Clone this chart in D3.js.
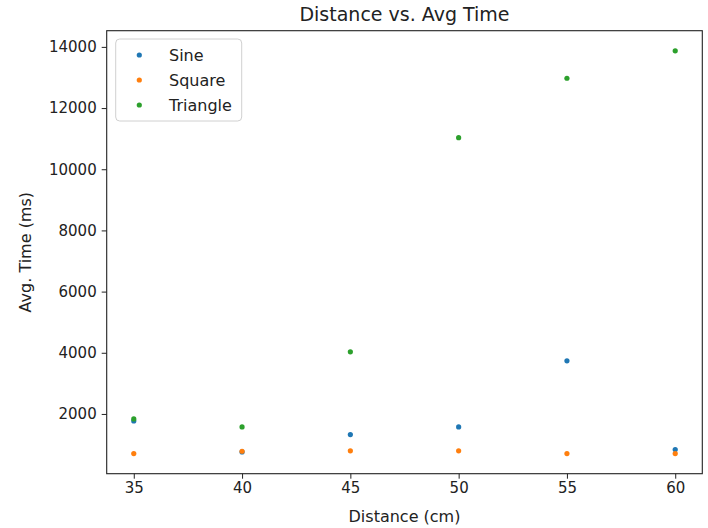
<!DOCTYPE html>
<html>
<head>
<meta charset="utf-8">
<script src="https://cdn.jsdelivr.net/npm/d3@7"></script>
<style>
  html, body { margin: 0; padding: 0; background: #fff; }
  svg { display: block; font-family: "DejaVu Sans", sans-serif; }
</style>
</head>
<body>
<svg id="chart" width="708" height="528"></svg>
<script>
const distances = [35, 40, 45, 50, 55, 60];
const sineValues = [1771, 760, 1325, 1576, 3738, 836];
const squareValues = [705, 780, 793, 793, 705, 705];
const triangleValues = [1837, 1576, 4031, 11032, 12975, 13871];
const seriesNames = ["Sine", "Square", "Triangle"];
const seriesColors = ["#1f77b4", "#ff7f0e", "#2ca02c"];
const xTicks = [35, 40, 45, 50, 55, 60];
const yTicks = [2000, 4000, 6000, 8000, 10000, 12000, 14000];

const series = [sineValues, squareValues, triangleValues].map((vals, i) => ({
  name: seriesNames[i], color: seriesColors[i],
  points: vals.map((v, j) => ({ x: distances[j], y: v }))
}));

const L = 106.7, R = 702.3, T = 30.7, B = 473.7;
const svg = d3.select("#chart");

function padded(ext) { const r = ext[1] - ext[0]; return [ext[0] - 0.05 * r, ext[1] + 0.05 * r]; }
const xScale = d3.scaleLinear().domain(padded(d3.extent(distances))).range([L, R]);
const allY = [].concat(sineValues, squareValues, triangleValues);
const yScale = d3.scaleLinear().domain(padded(d3.extent(allY))).range([B, T]);

// axes
const xAxis = svg.append("g").attr("transform", `translate(0,${B})`)
  .call(d3.axisBottom(xScale).tickValues(xTicks).tickSize(5).tickPadding(4).tickFormat(d3.format("d")));
const yAxis = svg.append("g").attr("transform", `translate(${L},0)`)
  .call(d3.axisLeft(yScale).tickValues(yTicks).tickSize(5).tickPadding(5).tickFormat(d3.format("d")));
[xAxis, yAxis].forEach(g => {
  g.select(".domain").remove();
  g.selectAll(".tick line").attr("stroke", "#222").attr("stroke-width", 1);
  g.selectAll(".tick text").attr("fill", "#222").style("font-size", "15px").style("font-family", "DejaVu Sans");
});

// frame
svg.append("rect").attr("x", L).attr("y", T).attr("width", R - L).attr("height", B - T)
  .attr("fill", "none").attr("stroke", "#222").attr("stroke-width", 1.1);

// points
series.forEach(s => {
  svg.append("g").selectAll("circle").data(s.points).join("circle")
    .attr("cx", d => xScale(d.x)).attr("cy", d => yScale(d.y))
    .attr("r", 2.6).attr("fill", s.color);
});

// title and labels
svg.append("text").attr("x", (L + R) / 2).attr("y", 21).attr("text-anchor", "middle")
  .style("font-size", "19px").attr("fill", "#222").text("Distance vs. Avg Time");
svg.append("text").attr("x", (L + R) / 2).attr("y", 522).attr("text-anchor", "middle")
  .style("font-size", "16px").attr("fill", "#222").text("Distance (cm)");
svg.append("text").attr("transform", `translate(31,${(T + B) / 2}) rotate(-90)`).attr("text-anchor", "middle")
  .style("font-size", "16px").attr("fill", "#222").text("Avg. Time (ms)");

// legend
const lg = svg.append("g");
lg.append("rect").attr("x", 115.7).attr("y", 39).attr("width", 126).attr("height", 82).attr("rx", 4)
  .attr("fill", "#fff").attr("fill-opacity", 0.8).attr("stroke", "#d0d0d0").attr("stroke-width", 1);
const legendY = [55, 80, 105];
series.forEach((s, i) => {
  lg.append("circle").attr("cx", 139.3).attr("cy", legendY[i]).attr("r", 2.6).attr("fill", s.color);
  lg.append("text").attr("x", 169).attr("y", legendY[i]).attr("dy", "0.35em")
    .style("font-size", "16px").attr("fill", "#222").text(s.name);
});
</script>
</body>
</html>
